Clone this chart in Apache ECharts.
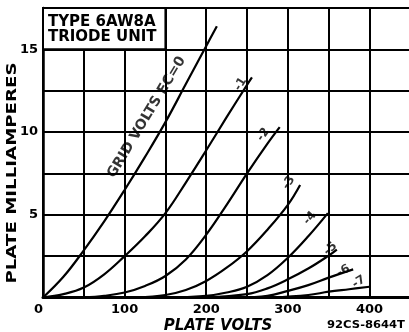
<!DOCTYPE html>
<html>
<head>
<meta charset="utf-8">
<script src="https://cdn.jsdelivr.net/npm/echarts@6/dist/echarts.min.js"></script>
<style>
  html, body { margin: 0; padding: 0; background: #fff; }
  #chart { width: 409px; height: 332px; }
</style>
</head>
<body>
<div id="chart"></div>
<script>
// Plate characteristics, triode unit of the 6AW8A: [plate volts, plate mA]
const gridVolts = ['0', '-1', '-2', '-3', '-4', '-5', '-6', '-7'];
const curveEc0 = [[0,0],[25,1.25],[50,2.85],[75,4.6],[100,6.5],[125,8.5],[150,10.6],[175,12.9],[200,15.2],[213,16.4]];
const curveEc1 = [[0,0],[25,0.2],[50,0.6],[75,1.4],[100,2.5],[125,3.7],[150,5.1],[175,6.95],[200,8.9],[225,10.9],[250,12.85],[256,13.3]];
const curveEc2 = [[50,0],[75,0.1],[100,0.3],[125,0.7],[150,1.3],[175,2.3],[200,3.8],[225,5.6],[250,7.5],[275,9.3],[290,10.3]];
const curveEc3 = [[115,0],[150,0.15],[175,0.45],[200,1.0],[225,1.8],[250,2.8],[275,4.1],[300,5.6],[315,6.8]];
const curveEc4 = [[160,0],[200,0.1],[225,0.3],[250,0.65],[275,1.35],[300,2.4],[325,3.7],[349,5.1]];
const curveEc5 = [[200,0],[250,0.2],[275,0.55],[300,1.1],[325,1.75],[349,2.5],[360,2.9]];
const curveEc6 = [[240,0],[275,0.1],[300,0.4],[325,0.75],[350,1.2],[380,1.7]];
const curveEc7 = [[280,0],[325,0.15],[350,0.35],[375,0.5],[400,0.65]];
const curves = [curveEc0, curveEc1, curveEc2, curveEc3, curveEc4, curveEc5, curveEc6, curveEc7];

const xTickLabels = [0, 100, 200, 300, 400];
const yTickLabels = [5, 10, 15];
const tubeType = 'TYPE 6AW8A';
const tubeUnit = 'TRIODE UNIT';
const curveCaption = 'GRID VOLTS EC=0';
const drawingNo = '92CS-8644T';

// where each curve tag sits (volts, mA) and its tilt in degrees
const tagPlacement = [
  { at: [127, 10.9], rotate: 59 },
  { at: [242, 12.9], rotate: 58 },
  { at: [270, 9.85], rotate: 55 },
  { at: [301, 6.94], rotate: 58 },
  { at: [327, 4.8], rotate: 50 },
  { at: [352, 2.94], rotate: 42 },
  { at: [368, 1.6], rotate: 28 },
  { at: [387, 0.94], rotate: 32 }
];

const INK = '#000';
const FONT = 'DejaVu Sans';

const lineSeries = curves.map((pts, i) => ({
  type: 'line',
  name: gridVolts[i],
  data: pts,
  smooth: 0.4,
  showSymbol: false,
  symbol: 'none',
  lineStyle: { color: INK, width: 2.2 },
  z: 3,
  silent: true
}));

const tagData = gridVolts.map((g, i) => ({
  value: tagPlacement[i].at,
  label: {
    formatter: i === 0 ? curveCaption : g,
    rotate: tagPlacement[i].rotate,
    fontSize: i === 0 ? 14 : 12
  }
}));

const chart = echarts.init(document.getElementById('chart'), null, { renderer: 'canvas' });
chart.setOption({
  animation: false,
  backgroundColor: '#fff',
  grid: { left: 43, top: 8, width: 367.3, height: 289.5, containLabel: false, outerBoundsMode: 'none' },
  xAxis: {
    type: 'value', min: 0, max: 450, interval: 50,
    axisLine: { show: true, onZero: true, lineStyle: { color: INK, width: 3 } },
    axisTick: { show: false },
    splitLine: { show: true, lineStyle: { color: INK, width: 2 } },
    axisLabel: {
      margin: 6, color: INK, fontFamily: FONT, fontWeight: 'bold', fontSize: 13,
      alignMinLabel: 'right',
      formatter: v => xTickLabels.includes(v) ? String(v) : ''
    }
  },
  yAxis: {
    type: 'value', min: 0, max: 17.5, interval: 2.5,
    axisLine: { show: true, lineStyle: { color: INK, width: 2.5 } },
    axisTick: { show: false },
    splitLine: { show: true, lineStyle: { color: INK, width: 2 } },
    axisLabel: {
      margin: 5, color: INK, fontFamily: FONT, fontWeight: 'bold', fontSize: 13,
      formatter: v => yTickLabels.includes(v) ? String(v) : ''
    }
  },
  series: [
    ...lineSeries,
    {
      type: 'scatter',
      name: 'tags',
      data: tagData,
      symbolSize: 0,
      z: 4,
      silent: true,
      label: {
        show: true, position: 'inside', color: INK,
        fontFamily: FONT, fontWeight: 'bold'
      },
      markArea: {
        silent: true,
        itemStyle: { color: '#fff', borderColor: INK, borderWidth: 2 },
        label: {
          show: true, position: 'insideTopLeft', distance: 0,
          offset: [6, 8],
          formatter: tubeType + '\n' + tubeUnit,
          color: INK, fontFamily: FONT, fontWeight: 'bold', fontSize: 15, lineHeight: 15
        },
        data: [[{ xAxis: 0, yAxis: 15 }, { xAxis: 150, yAxis: 17.5 }]]
      }
    }
  ],
  graphic: [
    {
      type: 'text', x: 12, y: 173, rotation: Math.PI / 2, scaleX: 1.3,
      style: {
        text: 'PLATE MILLIAMPERES', fill: INK, align: 'center', verticalAlign: 'middle',
        font: 'bold 14px "DejaVu Sans"'
      }
    },
    {
      type: 'text', x: 218, y: 326,
      style: {
        text: 'PLATE VOLTS', fill: INK, align: 'center', verticalAlign: 'middle',
        font: 'italic bold 15px "DejaVu Sans"'
      }
    },
    {
      type: 'text', x: 366, y: 325, scaleX: 1.05,
      style: {
        text: drawingNo, fill: INK, align: 'center', verticalAlign: 'middle',
        font: 'bold 11px "DejaVu Sans"'
      }
    }
  ]
});
</script>
</body>
</html>
